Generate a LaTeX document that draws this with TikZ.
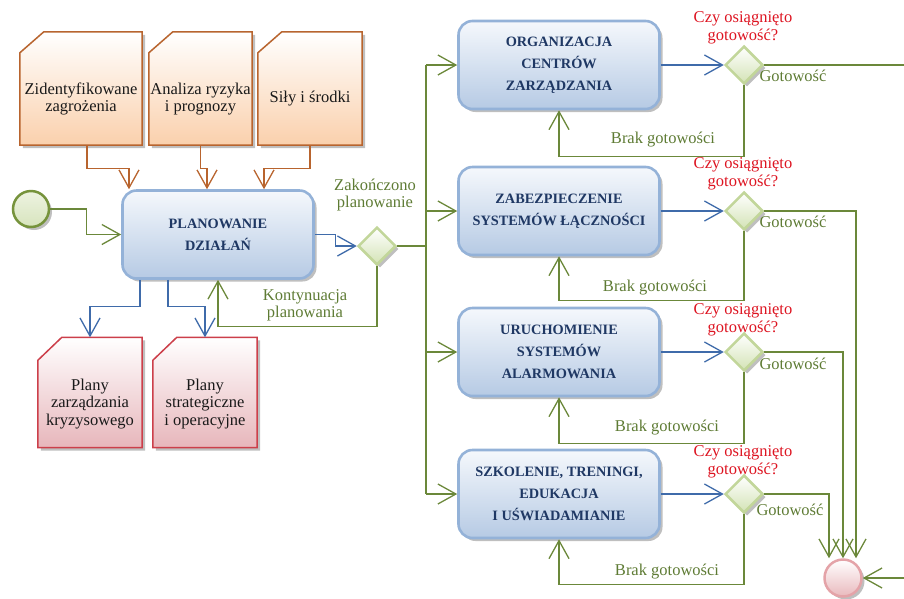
\documentclass[tikz,border=0pt]{standalone}
\usepackage{fontspec}
\setmainfont{Liberation Serif}
\usetikzlibrary{arrows.meta,shapes.geometric,shadows,calc,backgrounds}

\definecolor{docorange}{HTML}{B8642E}
\definecolor{docpeach}{HTML}{FAD0AC}
\definecolor{docred}{HTML}{CC3F4A}
\definecolor{docpink}{HTML}{E7B6BB}
\definecolor{taskborder}{HTML}{94B2D8}
\definecolor{tasktop}{HTML}{F5F8FC}
\definecolor{taskbottom}{HTML}{B6CAE4}
\definecolor{tasktext}{HTML}{1F3864}
\definecolor{flowblue}{HTML}{3F6BAA}
\definecolor{flowgreen}{HTML}{6B883A}
\definecolor{labelgreen}{HTML}{5E7B34}
\definecolor{askred}{HTML}{DD1421}
\definecolor{gwborder}{HTML}{C2D69A}
\definecolor{gwfill}{HTML}{D3E3B5}
\definecolor{startborder}{HTML}{76933C}
\definecolor{startfill}{HTML}{D7E4BD}
\definecolor{endborder}{HTML}{E4A3A8}
\definecolor{endfill}{HTML}{E9B9BD}
\definecolor{shadowgray}{HTML}{9C9C9C}

% outline of a document symbol with a cut top-left corner,
% drawn around the body node #1; \docrise = height of the cut part
\newcommand\docrise{21}
\newcommand\docoutline[1]{%
  (#1.south west) -- (#1.north west) -- ($(#1.north west)+(24,-\docrise)$)
  -- ($(#1.north east)+(0,-\docrise)$) -- (#1.south east) -- cycle}
\newcommand\drawdoc[3]{% node, border colour, bottom colour
  \fill[shadowgray, opacity=.65, transform canvas={shift={(3pt,-3pt)}}] \docoutline{#1};
  \shade[top color=white, bottom color=#3] \docoutline{#1};
  \draw[#2, line width=1.5pt, line join=miter] \docoutline{#1};}

\begin{document}
\begin{tikzpicture}[x=1pt, y=-1pt,
  arr/.style={-{Straight Barb[length=18pt,width=20pt]}},
  flow/.style={line width=1.3pt, arr},
  orangeflow/.style={flow, draw=docorange},
  blueflow/.style={flow, draw=flowblue},
  greenflow/.style={flow, draw=flowgreen},
  greenline/.style={line width=1.3pt, draw=flowgreen},
  softshadow/.style={drop shadow={shadow xshift=3pt, shadow yshift=-3pt, fill=shadowgray, opacity=.65}},
  docbody/.style={rectangle, inner sep=0pt, align=center, text=black!90,
    font=\fontsize{16.5}{17.5}\selectfont},
  task/.style={rectangle, rounded corners=14pt, draw=taskborder, line width=2.6pt,
    top color=tasktop, bottom color=taskbottom, minimum width=201pt, minimum height=88pt,
    align=center, text=tasktext, font=\fontsize{14.3}{21.8}\selectfont\bfseries, softshadow},
  gateway/.style={diamond, draw=gwborder, line width=2.5pt, top color=white,
    bottom color=gwfill, minimum width=38pt, minimum height=38pt, inner sep=0pt, softshadow},
  glabel/.style={align=center, text=labelgreen, inner sep=0pt,
    font=\fontsize{16.5}{17.5}\selectfont},
  qlabel/.style={align=center, text=askred, inner sep=0pt,
    font=\fontsize{16.5}{18}\selectfont}]

\useasboundingbox (0,0) rectangle (904,598);

% input documents
\node[docbody, minimum width=122pt, minimum height=92pt] (d1) at (81,99) {Zidentyfikowane\\zagrożenia};
\node[docbody, minimum width=103pt, minimum height=92pt] (d2) at (200.5,99) {Analiza ryzyka\\i prognozy};
\node[docbody, minimum width=104pt, minimum height=92pt] (d3) at (310,99) {Siły i środki};

% output documents
\node[docbody, minimum width=104pt, minimum height=87pt] (d4) at (90,404) {Plany\\zarządzania\\kryzysowego};
\node[docbody, minimum width=104pt, minimum height=87pt] (d5) at (205,404) {Plany\\strategiczne\\i operacyjne};

\begin{scope}[on background layer]
  \renewcommand\docrise{21}
  \drawdoc{d1}{docorange}{docpeach}
  \drawdoc{d2}{docorange}{docpeach}
  \drawdoc{d3}{docorange}{docpeach}
  \renewcommand\docrise{23}
  \drawdoc{d4}{docred}{docpink}
  \drawdoc{d5}{docred}{docpink}
\end{scope}
\coordinate (d4top) at ($(d4.north)+(0,-23)$);
\coordinate (d5top) at ($(d5.north)+(0,-23)$);

% events
\node[circle, draw=startborder, line width=2.5pt, top color=startfill!45, bottom color=startfill,
      minimum size=36pt, inner sep=0pt, softshadow] (S) at (31,209) {};
\node[circle, draw=endborder, line width=2.5pt, top color=white, bottom color=endfill,
      minimum size=37pt, inner sep=0pt, softshadow] (E) at (843,578) {};

% tasks
\node[task, minimum width=191pt] (P) at (218,234.5) {PLANOWANIE\\DZIAŁAŃ};
\node[task] (B1) at (559,65) {ORGANIZACJA\\CENTRÓW\\ZARZĄDZANIA};
\node[task] (B2) at (559,211) {ZABEZPIECZENIE\\SYSTEMÓW ŁĄCZNOŚCI};
\node[task] (B3) at (559,352) {URUCHOMIENIE\\SYSTEMÓW\\ALARMOWANIA};
\node[task] (B4) at (559,494) {SZKOLENIE, TRENINGI,\\EDUKACJA\\I UŚWIADAMIANIE};

% gateways
\node[gateway] (G0) at (377,246) {};
\node[gateway] (G1) at (744,65) {};
\node[gateway] (G2) at (744,211) {};
\node[gateway] (G3) at (744,352) {};
\node[gateway] (G4) at (744,494) {};

% branch points
\coordinate (T1) at (426,65);
\coordinate (T2) at (426,211);
\coordinate (T3) at (426,352);
\coordinate (T4) at (426,494);
\coordinate (X1) at (904,65);
\coordinate (X2) at (904,578);

% labels
\node[glabel] (lzak) at (375,195) {Zakończono\\planowanie};
\node[glabel] (lkont) at (305,305.5) {Kontynuacja\\planowania};
\node[qlabel] (q1) at (743,28) {Czy osiągnięto\\gotowość?};
\node[qlabel] (q2) at (743,174) {Czy osiągnięto\\gotowość?};
\node[qlabel] (q3) at (743,320) {Czy osiągnięto\\gotowość?};
\node[qlabel] (q4) at (743,462) {Czy osiągnięto\\gotowość?};
\node[glabel] (ok1) at (793,76) {Gotowość};
\node[glabel] (ok2) at (793,222) {Gotowość};
\node[glabel] (ok3) at (793,364) {Gotowość};
\node[glabel] (ok4) at (790,510) {Gotowość};
\node[glabel] (no1) at (663,140) {Brak gotowości};
\node[glabel] (no2) at (655,288) {Brak gotowości};
\node[glabel] (no3) at (667,428) {Brak gotowości};
\node[glabel] (no4) at (667,572) {Brak gotowości};

% inputs to planning
\draw[orangeflow] ([xshift=6pt]d1.south) -- ++(0,23) -| ([xshift=-89pt]P.north);
\draw[orangeflow] (d2.south) -- ++(0,23) -| ([xshift=-11pt]P.north);
\draw[orangeflow] (d3.south) -- ++(0,23) -| ([xshift=46pt]P.north);

% start and planning loop
\draw[greenflow] (S.east) -- ++(36,0) |- (P.west);
\draw[blueflow] (P.east) -- ++(21,0) |- (G0.west);
\draw[greenflow] (G0.south) -- ++(0,60) -| (P.south);

% planning outputs
\draw[blueflow] ([xshift=-78pt]P.south) -- ++(0,27) -| (d4top);
\draw[blueflow] ([xshift=-50pt]P.south) -- ++(0,27) -| (d5top);

% split to the four tasks
\draw[greenline] (G0.east) -- (G0.east -| T1);
\draw[greenline] (T1) -- (T4);
\draw[greenflow] (T1) -- (B1.west);
\draw[greenflow] (T2) -- (B2.west);
\draw[greenflow] (T3) -- (B3.west);
\draw[greenflow] (T4) -- (B4.west);

% readiness checks
\draw[blueflow] (B1.east) -- (G1.west);
\draw[blueflow] (B2.east) -- (G2.west);
\draw[blueflow] (B3.east) -- (G3.west);
\draw[blueflow] (B4.east) -- (G4.west);

\draw[greenflow] (G1.south) -- ++(0,71) -| (B1.south);
\draw[greenflow] (G2.south) -- ++(0,69) -| (B2.south);
\draw[greenflow] (G3.south) -- ++(0,71) -| (B3.south);
\draw[greenflow] (G4.south) -- ++(0,70) -| (B4.south);

% ready paths to the end event
\draw[greenline] (G1.east) -- (X1);
\draw[greenflow] (G2.east) -| ([xshift=13pt]E.north);
\draw[greenflow] (G3.east) -| (E.north);
\draw[greenflow] (G4.east) -| ([xshift=-14pt]E.north);
\draw[greenflow] (X2) -- (E.east);
\end{tikzpicture}
\end{document}
